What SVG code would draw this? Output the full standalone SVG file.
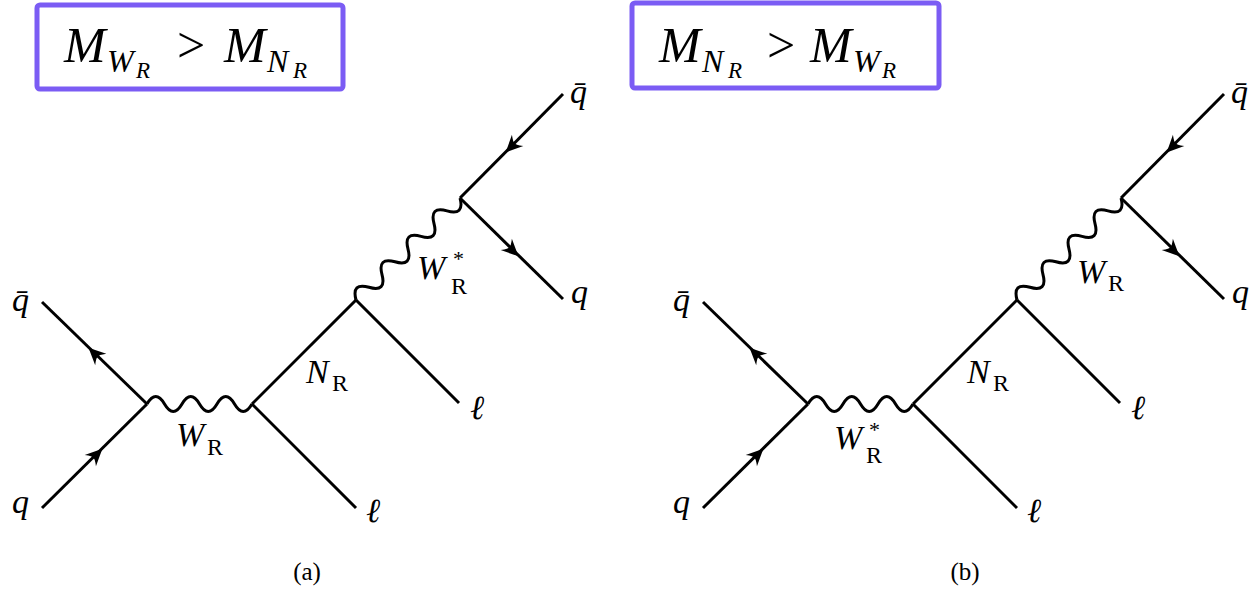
<svg xmlns="http://www.w3.org/2000/svg" xmlns:xlink="http://www.w3.org/1999/xlink" width="1253" height="590" viewBox="0 0 1253 590" font-family="'Liberation Serif','Times New Roman',Times,serif">
<style>
.ln{stroke:#000;stroke-width:3;fill:none;stroke-linecap:butt}
.box{fill:#fff;stroke:#7b5cf4;stroke-width:5}
.mi{font-style:italic;font-size:50px;fill:#000}
.ms{font-style:italic;font-size:32px;fill:#000}
.mss{font-style:italic;font-size:23px;fill:#000}
.mo{font-size:50px;fill:#000}
.it{font-style:italic;font-size:34px;fill:#000}
.sub{font-size:24px;fill:#000}
.st{font-size:22px;fill:#000}
.cap{font-size:25px;fill:#000;text-anchor:middle}
</style>
<defs>
<path id="wh" class="ln" d="M0,0 q8.75,-15 17.5,0 t17.5,0 t17.5,0 t17.5,0 t17.5,0 t17.5,0"/>
<path id="wd" class="ln" d="M0,0 q9.1,-16 18.2,0 t18.2,0 t18.2,0 t18.2,0 t18.2,0 t18.2,0 t18.2,0 t18.2,0"/>
<path id="arr" d="M9,0 L-8,-8 Q-3,-1.5 -4,0 Q-3,1.5 -8,8 Z" fill="#000"/>
</defs>

<g id="box-a">
<rect class="box" x="37" y="5" width="306" height="84" rx="3"/>
<text class="mi" x="64" y="62">M</text>
<text class="ms" x="107" y="72">W</text>
<text class="mss" x="136" y="78">R</text>
<text class="mo" x="177" y="62">&gt;</text>
<text class="mi" x="224" y="62">M</text>
<text class="ms" x="267" y="72">N</text>
<text class="mss" x="293" y="78">R</text>
</g>

<g id="box-b">
<rect class="box" x="632" y="3" width="307" height="85" rx="3"/>
<text class="mi" x="659" y="62">M</text>
<text class="ms" x="702" y="72">N</text>
<text class="mss" x="728" y="78">R</text>
<text class="mo" x="767" y="62">&gt;</text>
<text class="mi" x="810" y="62">M</text>
<text class="ms" x="853" y="72">W</text>
<text class="mss" x="882" y="78">R</text>
</g>

<g id="connectors">
<g id="lines-a">
<line class="ln" x1="42" y1="302" x2="147" y2="404"/>
<line class="ln" x1="42" y1="508" x2="147" y2="404"/>
<use xlink:href="#wh" transform="translate(147,404)"/>
<line class="ln" x1="252" y1="404" x2="356" y2="300"/>
<line class="ln" x1="252" y1="404" x2="356" y2="508"/>
<use xlink:href="#wd" transform="translate(356,300) rotate(-44.4)"/>
<line class="ln" x1="356" y1="300" x2="459" y2="403"/>
<line class="ln" x1="460" y1="198" x2="563" y2="94"/>
<line class="ln" x1="460" y1="198" x2="563" y2="299"/>
<use xlink:href="#arr" transform="translate(95,354) rotate(-136)"/>
<use xlink:href="#arr" transform="translate(96,455) rotate(-44.7)"/>
<use xlink:href="#arr" transform="translate(512,146) rotate(134.7)"/>
<use xlink:href="#arr" transform="translate(512,250) rotate(44.4)"/>
</g>
<g id="lines-b" transform="translate(661,0)">
<line class="ln" x1="42" y1="302" x2="147" y2="404"/>
<line class="ln" x1="42" y1="508" x2="147" y2="404"/>
<use xlink:href="#wh" transform="translate(147,404)"/>
<line class="ln" x1="252" y1="404" x2="356" y2="300"/>
<line class="ln" x1="252" y1="404" x2="356" y2="508"/>
<use xlink:href="#wd" transform="translate(356,300) rotate(-44.4)"/>
<line class="ln" x1="356" y1="300" x2="459" y2="403"/>
<line class="ln" x1="460" y1="198" x2="563" y2="94"/>
<line class="ln" x1="460" y1="198" x2="563" y2="299"/>
<use xlink:href="#arr" transform="translate(95,354) rotate(-136)"/>
<use xlink:href="#arr" transform="translate(96,455) rotate(-44.7)"/>
<use xlink:href="#arr" transform="translate(512,146) rotate(134.7)"/>
<use xlink:href="#arr" transform="translate(512,250) rotate(44.4)"/>
</g>
</g>

<g id="labels-a">
<text class="it" x="12" y="311">q̄</text>
<text class="it" x="12" y="513">q</text>
<text class="it" x="176" y="446">W</text><text class="sub" x="207" y="455">R</text>
<text class="it" x="306" y="383">N</text><text class="sub" x="332" y="391">R</text>
<text class="it" x="417" y="279">W</text><text class="st" x="453" y="266">*</text><text class="sub" x="451" y="294">R</text>
<text class="it" x="470" y="419">ℓ</text>
<text class="it" x="366" y="522">ℓ</text>
<text class="it" x="570" y="103">q̄</text>
<text class="it" x="571" y="303">q</text>
<text class="cap" x="307" y="580">(a)</text>
</g>

<g id="labels-b">
<text class="it" x="673" y="311">q̄</text>
<text class="it" x="673" y="513">q</text>
<text class="it" x="834" y="449">W</text><text class="st" x="869" y="437">*</text><text class="sub" x="866" y="463">R</text>
<text class="it" x="967" y="383">N</text><text class="sub" x="993" y="391">R</text>
<text class="it" x="1077" y="283">W</text><text class="sub" x="1108" y="291">R</text>
<text class="it" x="1131" y="419">ℓ</text>
<text class="it" x="1027" y="522">ℓ</text>
<text class="it" x="1231" y="103">q̄</text>
<text class="it" x="1232" y="303">q</text>
<text class="cap" x="965" y="580">(b)</text>
</g>
</svg>
